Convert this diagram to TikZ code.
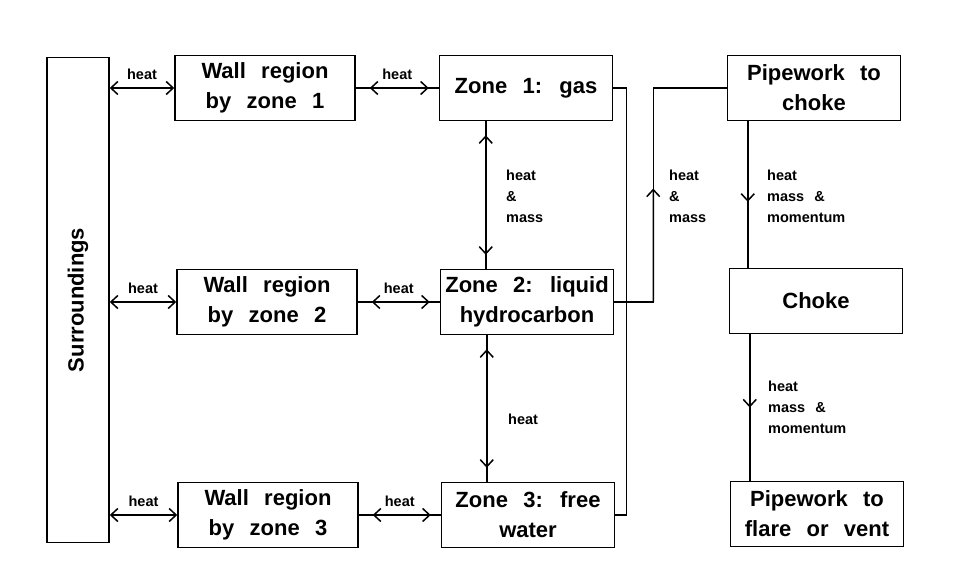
\documentclass[tikz,border=0pt]{standalone}
\usepackage{fontspec}
\setmainfont{Liberation Sans}[WordSpace=2.5]
\usetikzlibrary{positioning,calc}
\usetikzlibrary{arrows.meta}
\tikzset{blk/.style={draw=black,line width=1.5pt,inner sep=2pt,align=center,minimum width=173pt,minimum height=65pt,font=\bfseries\fontsize{22}{30}\selectfont}, note/.style={inner sep=0pt,align=left,font=\bfseries\fontsize{14.5}{21}\selectfont}, link/.style={line width=1.5pt}, both/.style={link,{Straight Barb[length=7pt,width=13pt]}-{Straight Barb[length=7pt,width=13pt]}}, fwd/.style={link,-{Straight Barb[length=7pt,width=13pt]}}}

\begin{document}
\begin{tikzpicture}[x=1pt,y=-1pt]
\useasboundingbox (0,0) rectangle (975,575);
\node[blk,minimum width=62pt,minimum height=485pt] (sur) at (78,300) {\rotatebox{90}{Surroundings}};
\node[blk,minimum width=180pt] (w1) at (265,88) {Wall region\\by zone 1};
\node[blk,minimum width=180pt] (w2) at (267,302) {Wall region\\by zone 2};
\node[blk,minimum width=180pt] (w3) at (268,515) {Wall region\\by zone 3};
\node[blk] (z1) at (526,88) {Zone 1: gas};
\node[blk] (z2) at (527,302) {Zone 2: liquid\\hydrocarbon};
\node[blk] (z3) at (528,515) {Zone 3: free\\water};
\node[blk] (p1) at (814,88) {Pipework to\\choke};
\node[blk] (ck) at (816,301) {Choke};
\node[blk] (p2) at (817,514) {Pipework to\\flare or vent};
% heat to the surroundings and walls
\draw[both] (sur.east |- w1) -- (w1) node[note,midway,above=8pt] (h1) {heat};
\draw[both] (sur.east |- w2) -- (w2) node[note,midway,above=8pt] (h2) {heat};
\draw[both] (sur.east |- w3) -- (w3) node[note,midway,above=8pt] (h3) {heat};
\draw[link] (w1.east) -- (z1.west);
\draw[link] (w2.east) -- (z2.west);
\draw[link] (w3.east) -- (z3.west);
\draw[both,shorten <=14pt,shorten >=10pt] (w1.east) -- (z1.west) node[note,midway,above=8pt] (h4) {heat};
\draw[both,shorten <=14pt,shorten >=10pt] (w2.east) -- (z2.west) node[note,midway,above=8pt] (h5) {heat};
\draw[both,shorten <=14pt,shorten >=10pt] (w3.east) -- (z3.west) node[note,midway,above=8pt] (h6) {heat};
% between the zones
\draw[link] ($(z1.south west)+(47,0)$) coordinate (a1) -- (a1 |- z2.north);
\draw[both,shorten <=14pt,shorten >=14pt] (a1) -- (a1 |- z2.north);
\draw[link] ($(z2.south west)+(47,0)$) coordinate (a2) -- (a2 |- z3.north);
\draw[both,shorten <=14pt,shorten >=14pt] (a2) -- (a2 |- z3.north);
\node[note,anchor=west] (m1) at (506,196) {heat\\\&\\mass};
\node[note,anchor=west] (m2) at (508,419) {heat};
% outflow to the pipework
\draw[link] (z1.east) -- ++(13,0) coordinate (bus) -- (bus |- z3.east) -- (z3.east);
\draw[link] (z2.east) -- ++(39,0) coordinate (up) -- (up |- p1.west) -- (p1.west);
\draw[fwd] (up) -- ($(up)!0.53!(up |- p1.west)$);
\node[note,anchor=west] (m3) at (669,196) {heat\\\&\\mass};
\draw[link] ($(p1.south west)+(21,0)$) coordinate (c1) -- (c1 |- ck.north);
\draw[fwd] (c1) -- ($(c1)!0.55!(c1 |- ck.north)$);
\draw[link] ($(ck.south west)+(21,0)$) coordinate (c2) -- (c2 |- p2.north);
\draw[fwd] (c2) -- ($(c2)!0.5!(c2 |- p2.north)$);
\node[note,anchor=west] (m4) at (767,196) {heat\\mass \&\\momentum};
\node[note,anchor=west] (m5) at (768,407) {heat\\mass \&\\momentum};
\end{tikzpicture}
\end{document}
